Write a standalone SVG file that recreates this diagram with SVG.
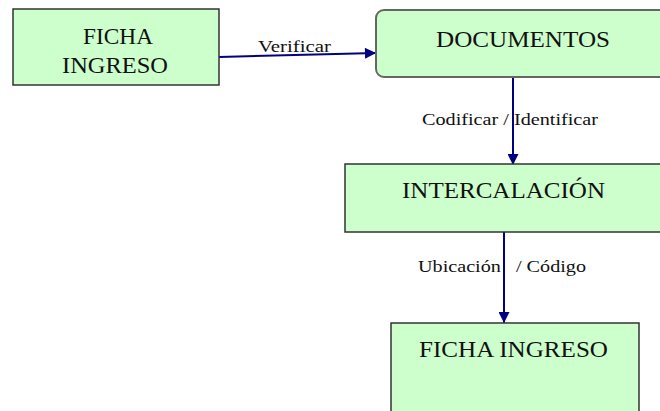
<svg xmlns="http://www.w3.org/2000/svg" width="660" height="411" viewBox="0 0 660 411">
  <style>
    .box { fill: #ccffcc; stroke: #333333; stroke-width: 1.5; }
    .rbox { fill: #ccffcc; stroke: #666666; stroke-width: 2; }
    .t { font-family: "Liberation Serif", "DejaVu Serif", serif; font-size: 24px; fill: #111111; }
    .lbl { font-family: "Liberation Serif", "DejaVu Serif", serif; font-size: 16px; fill: #111111; }
    .conn { stroke: #000080; stroke-width: 2; fill: none; marker-end: url(#arrow); }
  </style>
  <defs>
    <marker id="arrow" viewBox="0 0 10 10" refX="10" refY="5" markerWidth="6" markerHeight="5.5" orient="auto" markerUnits="strokeWidth">
      <path d="M0,0 L10,5 L0,10 z" fill="#000080"/>
    </marker>
  </defs>

  <rect width="660" height="411" fill="#ffffff"/>

  <g id="connectors">
    <line class="conn" x1="219" y1="57" x2="376" y2="53"/>
    <line class="conn" x1="513" y1="77" x2="513" y2="165"/>
    <line class="conn" x1="504" y1="232" x2="504" y2="323"/>
    <text class="lbl" x="258" y="52" textLength="73" lengthAdjust="spacingAndGlyphs">Verificar</text>
    <text class="lbl" x="422" y="125" textLength="176" lengthAdjust="spacingAndGlyphs">Codificar / Identificar</text>
    <text class="lbl" x="418" y="272" textLength="168" lengthAdjust="spacingAndGlyphs" xml:space="preserve">Ubicación   / Código</text>
  </g>

  <g id="ficha-ingreso-1">
    <rect class="box" x="13" y="9" width="206" height="76"/>
    <text class="t" x="83" y="44" textLength="70" lengthAdjust="spacingAndGlyphs">FICHA</text>
    <text class="t" x="62" y="73" textLength="106" lengthAdjust="spacingAndGlyphs">INGRESO</text>
  </g>

  <g id="documentos">
    <rect class="rbox" x="376" y="10" width="300" height="67" rx="8" ry="8"/>
    <text class="t" x="436" y="47" textLength="174" lengthAdjust="spacingAndGlyphs">DOCUMENTOS</text>
  </g>

  <g id="intercalacion">
    <rect class="box" x="345" y="164" width="330" height="68"/>
    <text class="t" x="402" y="198" textLength="203" lengthAdjust="spacingAndGlyphs">INTERCALACIÓN</text>
  </g>

  <g id="ficha-ingreso-2">
    <rect class="box" x="391" y="323" width="248" height="100"/>
    <text class="t" x="419" y="357" textLength="189" lengthAdjust="spacingAndGlyphs">FICHA INGRESO</text>
  </g>
</svg>
